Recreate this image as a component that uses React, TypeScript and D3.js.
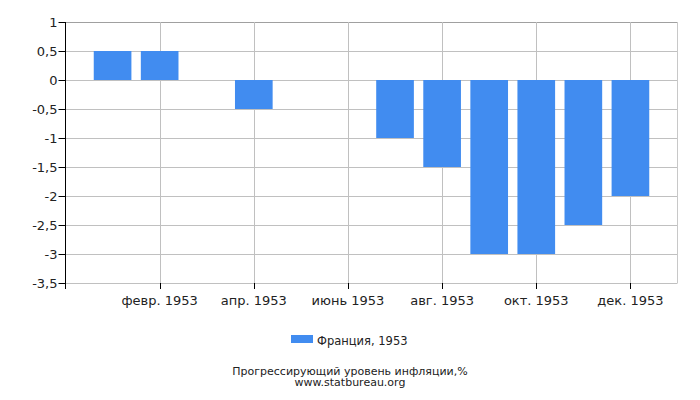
import React from "react";
import * as d3 from "d3";

const months = ["янв.", "февр.", "март", "апр.", "май", "июнь", "июль", "авг.", "сент.", "окт.", "нояб.", "дек."];
const values = [0.5, 0.5, 0, -0.5, 0, 0, -1, -1.5, -3, -3, -2.5, -2];
const yTicks = [1, 0.5, 0, -0.5, -1, -1.5, -2, -2.5, -3, -3.5];
const labeledMonths = [1, 3, 5, 7, 9, 11];
const year = "1953";
const seriesName = "Франция, 1953";
const title = "Прогрессирующий уровень инфляции,%";
const source = "www.statbureau.org";

const W = 700, H = 400;
const L = 65.5, R = 677.5, T = 22, B = 283;
const font = "DejaVu Sans, sans-serif";

export default function App() {
  const x = d3.scalePoint<number>().domain(d3.range(12)).range([L, R]).padding(1);
  const step = x.step();
  const bw = step * 0.8;
  const y = d3.scaleLinear().domain([-3.5, 1]).range([B, T]);
  const fmt = (v: number) => String(v).replace(".", ",");
  return (
    <svg width={W} height={H} style={{ position: "absolute", left: 0, top: 0, background: "#fff" }}>
      {yTicks.map((t) => (
        <line key={"g" + t} x1={L} x2={R} y1={Math.round(y(t)) + 0.5} y2={Math.round(y(t)) + 0.5}
          stroke={t === 1 ? "#a0a0a0" : "#c0c0c0"} strokeWidth={1} />
      ))}
      {labeledMonths.map((m) => (
        <line key={"v" + m} x1={Math.round(x(m)!) + 0.5} x2={Math.round(x(m)!) + 0.5} y1={T} y2={B}
          stroke="#c0c0c0" />
      ))}
      <line x1={R} x2={R} y1={T} y2={B} stroke="#c8c8c8" />
      {values.map((v, i) => (
        <rect key={"b" + i} x={x(i)! - bw / 2} width={bw}
          y={Math.min(y(v), y(0))} height={Math.abs(y(v) - y(0))} fill="#418cf0" />
      ))}
      <line x1={L} x2={L} y1={T} y2={B + 6} stroke="#000" />
      {yTicks.map((t) => (
        <g key={"t" + t}>
          <line x1={L - 7} x2={L} y1={Math.round(y(t)) + 0.5} y2={Math.round(y(t)) + 0.5} stroke="#000" />
          <text x={L - 8} y={y(t) + 4.5} textAnchor="end" fontFamily={font} fontSize={13} fill="#222">{fmt(t)}</text>
        </g>
      ))}
      {labeledMonths.map((m) => (
        <g key={"xt" + m}>
          <line x1={Math.round(x(m)!) + 0.5} x2={Math.round(x(m)!) + 0.5} y1={B} y2={B + 6} stroke="#000" />
          <text x={x(m)!} y={305} textAnchor="middle" fontFamily={font} fontSize={13} fill="#222">
            {months[m] + " " + year}
          </text>
        </g>
      ))}
      <rect x={291} y={335} width={22} height={8} fill="#418cf0" />
      <text x={317} y={344.5} fontFamily={font} fontSize={11.5} fill="#222">{seriesName}</text>
      <text x={350} y={374.5} textAnchor="middle" fontFamily={font} fontSize={11} fill="#222">{title}</text>
      <text x={350} y={386} textAnchor="middle" fontFamily={font} fontSize={11} fill="#222">{source}</text>
    </svg>
  );
}
